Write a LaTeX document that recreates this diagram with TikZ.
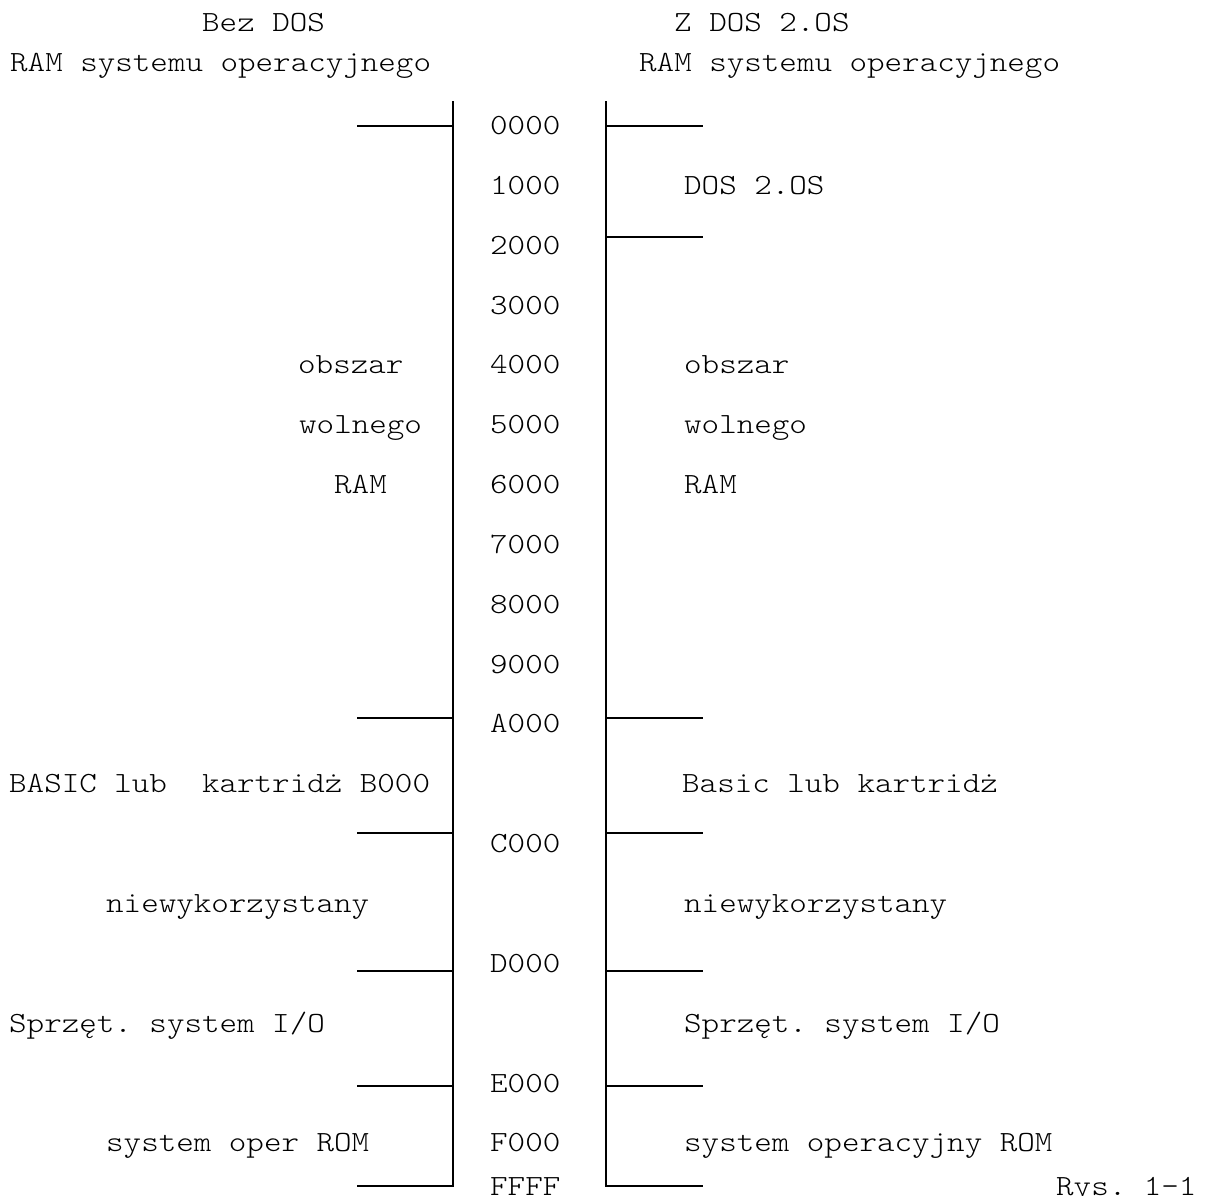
\documentclass[tikz,border=0pt]{standalone}
\usepackage{fontspec}
\setmonofont{Latin Modern Mono Light}[FakeStretch=1.14]
\usepackage{tikz}
\usetikzlibrary{positioning}
\tikzset{
memtext/.style={anchor=base west,inner sep=0pt,font=\fontsize{29.3}{35}\selectfont\ttfamily},
addr/.style={memtext},
axis/.style={line width=1.8pt,line cap=rect},
tick/.style={line width=1.8pt}
}

\begin{document}
\begin{tikzpicture}[x=1pt,y=-1pt]
\useasboundingbox (0,0) rectangle (1208,1195);
% headings
\node[memtext] (hl1) at (202,31.7) {Bez DOS};
\node[memtext] (hl2) at (10,71.7) {RAM systemu operacyjnego};
\node[memtext] (hr1) at (674,31.7) {Z DOS 2.OS};
\node[memtext] (hr2) at (639,71.7) {RAM systemu operacyjnego};
% address column
\node[addr] (a0) at (490,134.4) {0000};
\node[addr] (a1) at (490,194.3) {1000};
\node[addr] (a2) at (490,254.1) {2000};
\node[addr] (a3) at (490,314.0) {3000};
\node[addr] (a4) at (490,373.8) {4000};
\node[addr] (a5) at (490,433.7) {5000};
\node[addr] (a6) at (490,493.5) {6000};
\node[addr] (a7) at (490,553.4) {7000};
\node[addr] (a8) at (490,613.2) {8000};
\node[addr] (a9) at (490,673.1) {9000};
\node[addr] (aA) at (490,732.9) {A000};
\node[addr] (aC) at (490,852.6) {C000};
\node[addr] (aD) at (490,972.3) {D000};
\node[addr] (aE) at (490,1092) {E000};
\node[addr] (aF) at (490,1151.9) {F000};
\node[addr] (aend) at (490,1195.5) {FFFF};
% left map
\node[memtext] (lfree1) at (298,373.8) {obszar};
\node[memtext] (lfree2) at (299,433.7) {wolnego};
\node[memtext] (lfree3) at (334,493.5) {RAM};
\node[memtext] (lbasic) at (9,792.8) {BASIC lub\ \ kartridż B000};
\node[memtext] (lunused) at (106,912.5) {niewykorzystany};
\node[memtext] (lio) at (9,1032.2) {Sprzęt. system I/O};
\node[memtext] (lrom) at (106,1151.9) {system oper ROM};
% right map
\node[memtext] (rdos) at (684,194.3) {DOS 2.OS};
\node[memtext] (rfree1) at (684,373.8) {obszar};
\node[memtext] (rfree2) at (684,433.7) {wolnego};
\node[memtext] (rfree3) at (684,493.5) {RAM};
\node[memtext] (rbasic) at (682,792.8) {Basic lub kartridż};
\node[memtext] (runused) at (684,912.5) {niewykorzystany};
\node[memtext] (rio) at (684,1032.2) {Sprzęt. system I/O};
\node[memtext] (rrom) at (684,1151.9) {system operacyjny ROM};
\node[memtext] (fig) at (1056,1195.5) {Rys. 1-1};
% rails
\coordinate (ltop) at (453,102);
\coordinate (lbot) at (453,1186);
\coordinate (rtop) at (606,102);
\coordinate (rbot) at (606,1186);
\draw[axis] (ltop) -- (lbot);
\draw[axis] (rtop) -- (rbot);
\foreach \y in {126,718,833,971,1086,1186}
  \draw[tick] (357,\y) -- (453,\y);
\foreach \y in {126,237,718,833,971,1086,1186}
  \draw[tick] (606,\y) -- (703,\y);
\end{tikzpicture}
\end{document}
